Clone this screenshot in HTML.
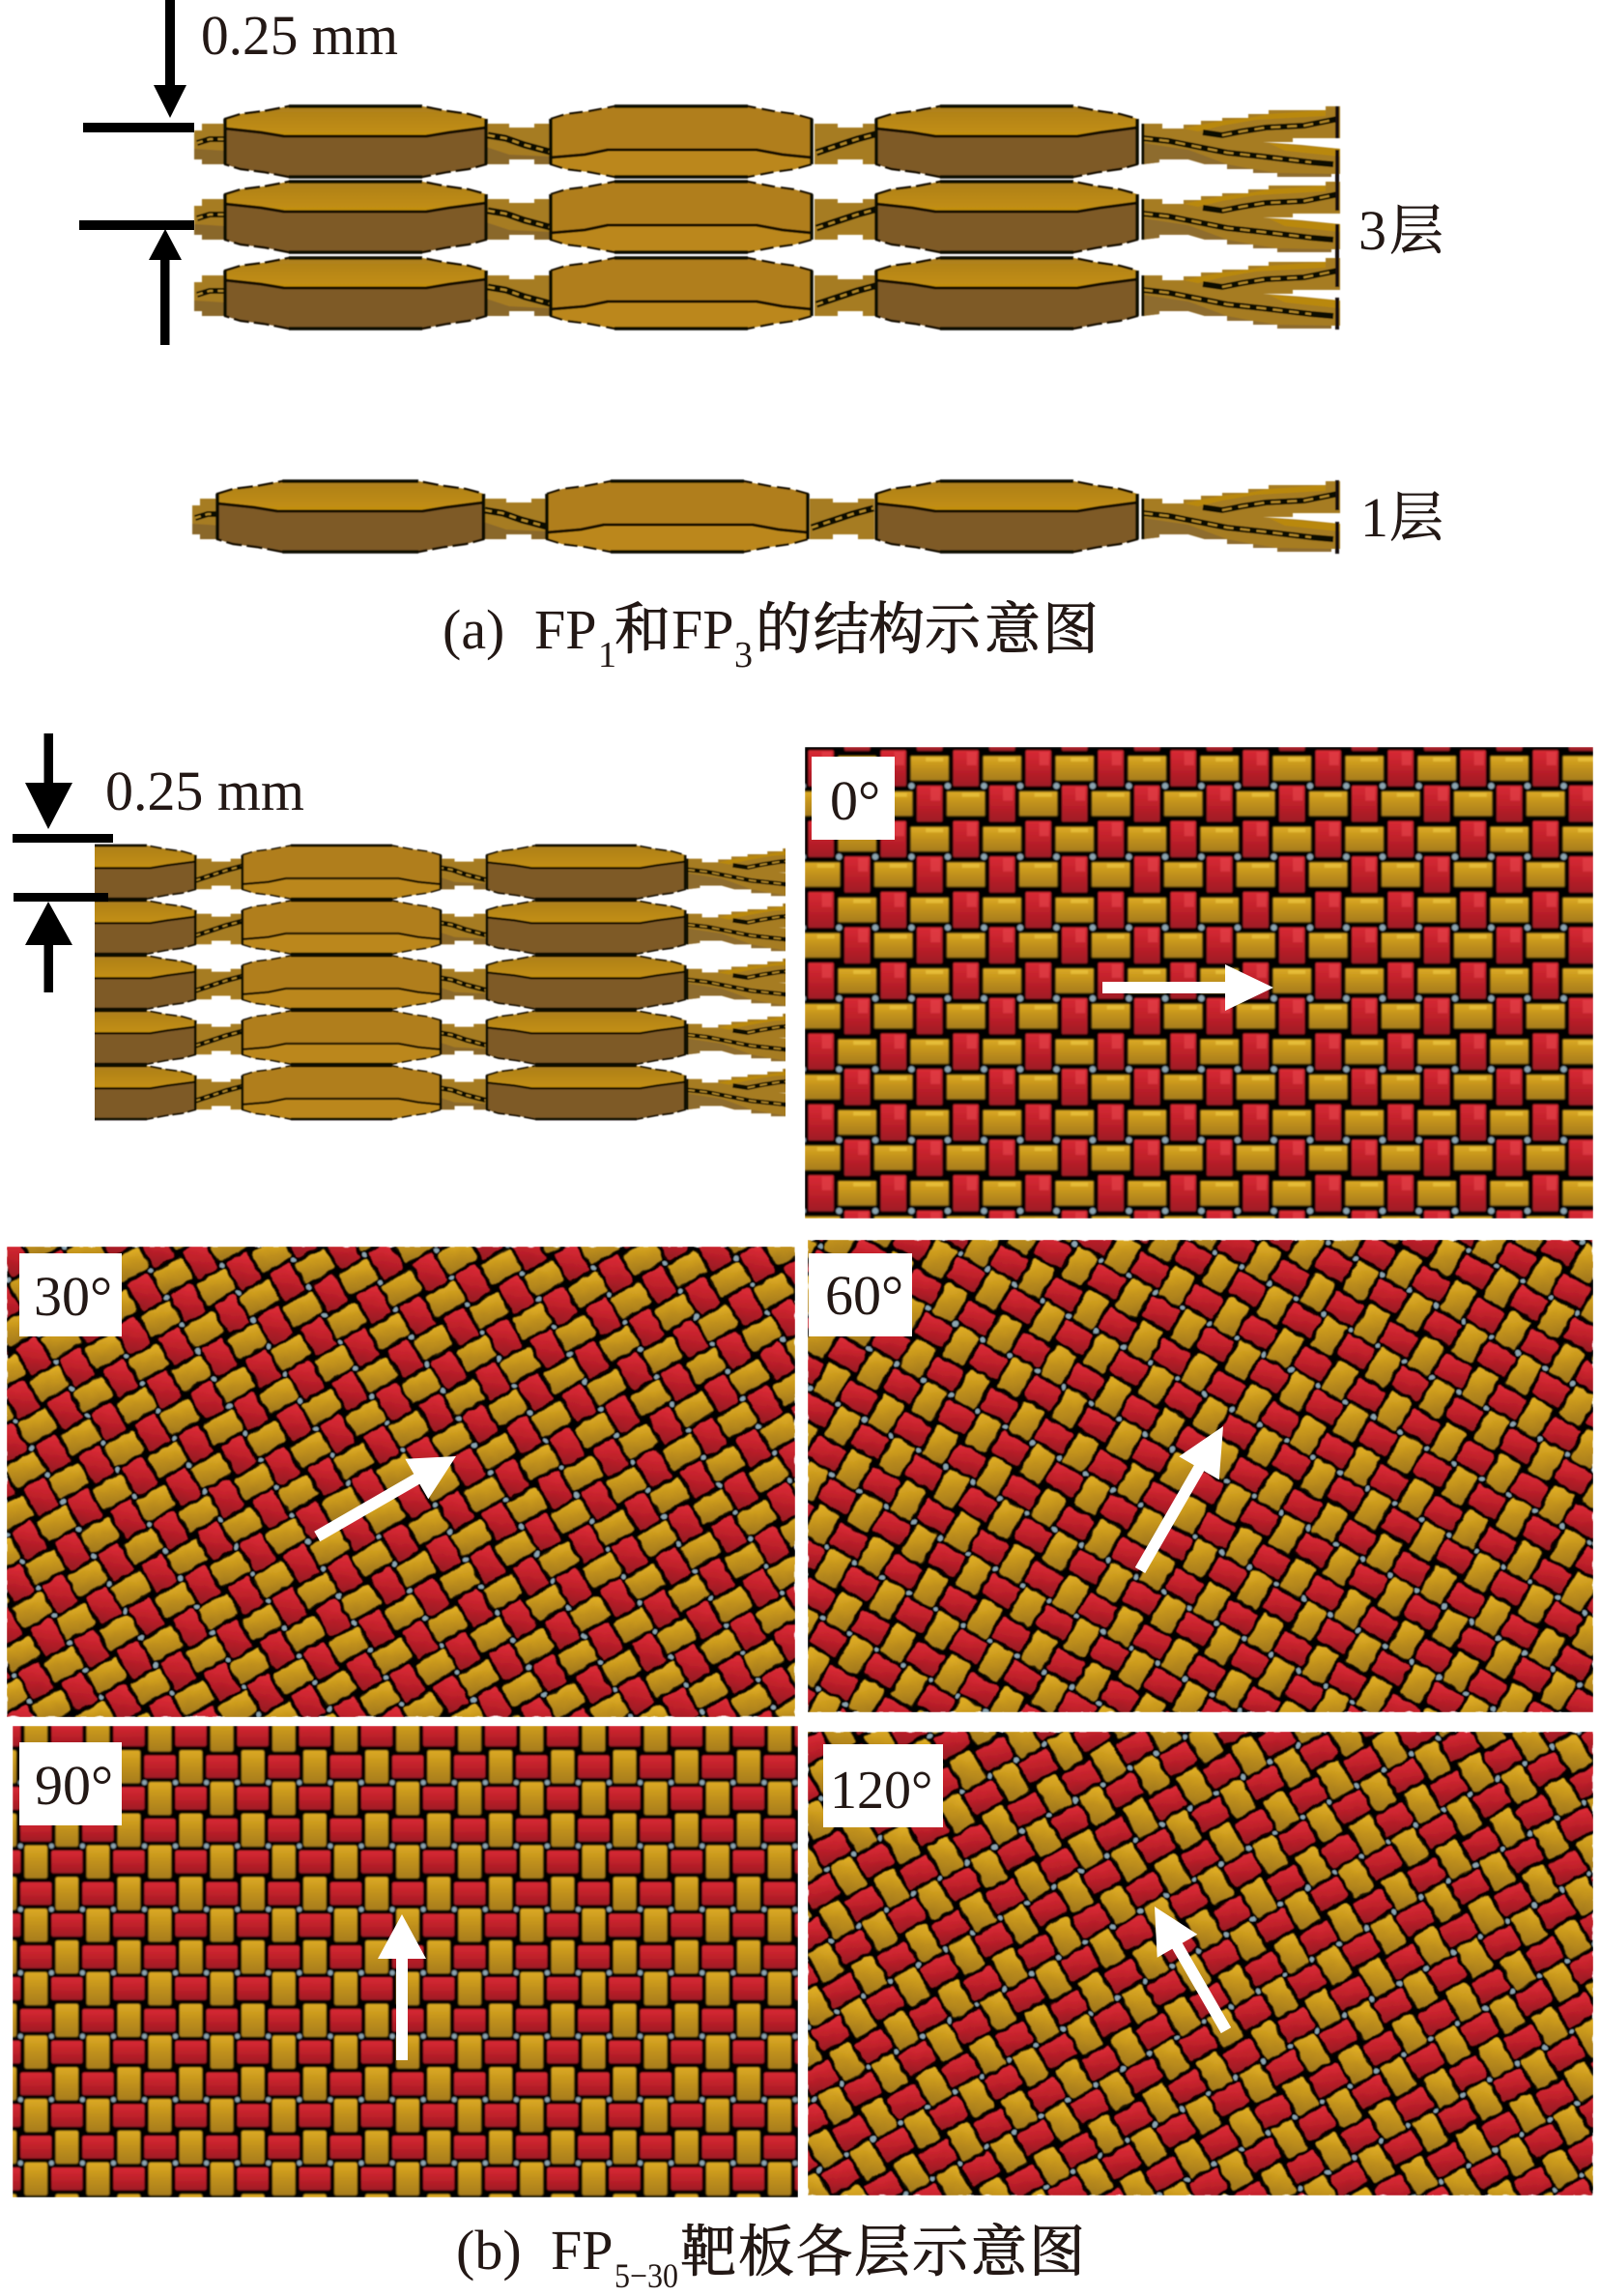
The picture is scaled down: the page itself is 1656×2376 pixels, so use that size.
<!DOCTYPE html>
<html lang="zh">
<head>
<meta charset="utf-8">
<title>FP target structure</title>
<style>
html,body{margin:0;padding:0;background:#fff}
svg{display:block}
.t{font-family:"Liberation Serif","Noto Serif CJK SC",serif;fill:#231815;font-size:58px}
.c{font-family:"Liberation Serif","Noto Serif CJK SC",serif;fill:#231815;font-size:58px;stroke:#231815;stroke-width:.9px}
</style>
</head>
<body>
<svg xmlns="http://www.w3.org/2000/svg" width="1656" height="2376" viewBox="0 0 1656 2376">
<defs>
<filter id="soft" x="0" y="0" width="100%" height="100%"><feGaussianBlur stdDeviation=".8"/></filter>
<filter id="softL" x="-2%" y="-2%" width="104%" height="104%"><feGaussianBlur stdDeviation=".55"/></filter>
<filter id="wavy" x="0" y="0" width="100%" height="100%">
<feTurbulence type="fractalNoise" baseFrequency=".11" numOctaves="1" seed="4" result="n"/>
<feDisplacementMap in="SourceGraphic" in2="n" scale="5" xChannelSelector="R" yChannelSelector="G" result="d"/>
<feGaussianBlur in="d" stdDeviation=".6"/>
</filter>

<linearGradient id="gr" x1="0" y1="0" x2="0" y2="1"><stop offset="0" stop-color="#d82a34"/><stop offset=".5" stop-color="#bf202a"/><stop offset="1" stop-color="#9e1b24"/></linearGradient>
<linearGradient id="gg" x1="0" y1="0" x2="0" y2="1"><stop offset="0" stop-color="#dcaa24"/><stop offset=".5" stop-color="#c0901a"/><stop offset="1" stop-color="#a67c1c"/></linearGradient>
<linearGradient id="ga" x1="0" y1="0" x2="0" y2="1"><stop offset="0" stop-color="#ad7f1c"/><stop offset="1" stop-color="#c49010"/></linearGradient>

<linearGradient id="r30" href="#gr" x1=".75" y1=".067" x2=".25" y2=".933"/>
<linearGradient id="g30" href="#gg" x1=".75" y1=".067" x2=".25" y2=".933"/>
<linearGradient id="r60" href="#gr" x1=".933" y1=".25" x2=".067" y2=".75"/>
<linearGradient id="g60" href="#gg" x1=".933" y1=".25" x2=".067" y2=".75"/>
<linearGradient id="r90" href="#gr" x1="1" y1=".5" x2="0" y2=".5"/>
<linearGradient id="g90" href="#gg" x1="1" y1=".5" x2="0" y2=".5"/>
<linearGradient id="r120" href="#gr" x1=".933" y1=".75" x2=".067" y2=".25"/>
<linearGradient id="g120" href="#gg" x1=".933" y1=".75" x2=".067" y2=".25"/>

<g id="red"><rect x="-13.5" y="-19" width="27" height="38" rx="2" fill="url(#gr)" stroke="#3a0a0a" stroke-width="1"/><rect x="1" y="-17" width="10" height="14" fill="#e8474e" opacity=".55"/></g>
<g id="gold"><rect x="-20" y="-13" width="40" height="26" rx="1.5" fill="url(#gg)" stroke="#3d3008" stroke-width="1.2"/><rect x="-4" y="-11" width="18" height="4" fill="#efc942" opacity=".65"/></g>

<g id="tile">
<rect width="75" height="73.3" fill="#060403"/>
<circle cx="37.5" cy="36.65" r="3.2" fill="#8ca4b0"/>
<circle cx="0" cy="36.65" r="3.2" fill="#8ca4b0"/>
<circle cx="75" cy="36.65" r="3.2" fill="#8ca4b0"/>
<use href="#red" x="18.75" y="18.33"/>
<use href="#red" x="18.75" y="91.63"/>
<use href="#gold" x="56.25" y="18.33"/>
<use href="#gold" x="-18.75" y="18.33"/>
<use href="#gold" x="18.75" y="54.98"/>
<use href="#gold" x="93.75" y="54.98"/>
<use href="#red" x="56.25" y="54.98"/>
<use href="#red" x="56.25" y="-18.32"/>
</g>

<rect id="redR" x="-14" y="-19" width="28" height="38" rx="3" stroke="#1c0505" stroke-width="1.3"/>
<rect id="goldR" x="-20" y="-14" width="40" height="28" rx="3" stroke="#231a06" stroke-width="1.3"/>
<g id="reds"><use href="#redR" x="18.75" y="18.33"/><use href="#redR" x="18.75" y="91.63"/><use href="#redR" x="56.25" y="54.98"/><use href="#redR" x="56.25" y="-18.32"/></g>
<g id="golds"><use href="#goldR" x="56.25" y="18.33"/><use href="#goldR" x="-18.75" y="18.33"/><use href="#goldR" x="18.75" y="54.98"/><use href="#goldR" x="93.75" y="54.98"/></g>
<g id="base"><rect width="75" height="73.3" fill="#060403"/><circle cx="37.5" cy="36.65" r="3" fill="#8ca4b0"/><circle cx="37.5" cy="0" r="3" fill="#8ca4b0"/><circle cx="37.5" cy="73.3" r="3" fill="#8ca4b0"/></g>

<pattern id="p0" patternUnits="userSpaceOnUse" width="75" height="73.3" patternTransform="translate(999.7 795) translate(-18.75 -18.33)"><use href="#tile"/></pattern>
<pattern id="p30" patternUnits="userSpaceOnUse" width="75" height="73.3" patternTransform="translate(35 1403.3) rotate(-30) scale(.885) translate(-18.75 -18.33)"><use href="#base"/><use href="#reds" fill="url(#r30)"/><use href="#golds" fill="url(#g30)"/></pattern>
<pattern id="p60" patternUnits="userSpaceOnUse" width="75" height="73.3" patternTransform="translate(966.7 1376.7) rotate(-60) scale(.885) translate(-18.75 -18.33)"><use href="#base"/><use href="#reds" fill="url(#r60)"/><use href="#golds" fill="url(#g60)"/></pattern>
<pattern id="p90" patternUnits="userSpaceOnUse" width="75" height="73.3" patternTransform="translate(69.3 1926.7) rotate(-90) scale(.875) translate(-18.75 -18.33)"><use href="#base"/><use href="#reds" fill="url(#r90)"/><use href="#golds" fill="url(#g90)"/></pattern>
<pattern id="p120" patternUnits="userSpaceOnUse" width="75" height="73.3" patternTransform="translate(1018.3 1860) rotate(-120) scale(.885) translate(-18.75 -18.33)"><use href="#base"/><use href="#reds" fill="url(#r120)"/><use href="#golds" fill="url(#g120)"/></pattern>

<polygon id="outer" points="0,13 16,8 40,5 66,0 204,0 230,5 252,8 270,13 270,60 252,65 230,68 204,73 66,73 40,68 16,65 0,60"/>

<g id="lensA">
<use href="#outer" fill="#7e5a28"/>
<polygon points="0,13 16,8 40,5 66,0 204,0 230,5 252,8 270,13 270,22 232,27 208,31 61,31 37,27 0,23" fill="url(#ga)"/>
<polyline points="0,23 37,27 61,31 208,31 232,27 270,22" fill="none" stroke="#120c04" stroke-width="3"/>
<use href="#outer" fill="none" stroke="#120c04" stroke-width="2.4" stroke-dasharray="16 5"/>
<path d="M66 0H204M66 73H204" stroke="#0a0703" stroke-width="3.5"/>
<path d="M0 13V60M270 13V60" stroke="#0a0703" stroke-width="3.5"/>
</g>

<g id="lensB">
<use href="#outer" fill="#b07e1f"/>
<polygon points="0,53 35,50 59,45 213,45 240,50 270,53 270,60 252,65 230,68 204,73 66,73 40,68 16,65 0,60" fill="#bb871a"/>
<polyline points="0,53 35,50 59,45 213,45 240,50 270,53" fill="none" stroke="#120c04" stroke-width="3"/>
<use href="#outer" fill="none" stroke="#120c04" stroke-width="2.2" stroke-dasharray="14 6"/>
<path d="M66 0H204M66 73H204" stroke="#0a0703" stroke-width="3.5"/>
<path d="M0 13V60M270 13V60" stroke="#0a0703" stroke-width="3.5"/>
</g>

<g id="linkD">
<polygon points="0,18 24,18 24,22 50,22 50,18 67,18 67,60 50,60 50,55 24,55 24,60 0,60" fill="#a67c22"/>
<polygon points="0,42 24,50 67,52 67,60 50,60 50,55 24,55 24,60 0,60" fill="#8a672c"/>
<polyline points="2,30 20,33 40,40 66,47" fill="none" stroke="#0e0a04" stroke-width="7"/>
<polyline points="2,30 20,33 40,40 66,47" fill="none" stroke="#b58a2a" stroke-width="2.4" stroke-dasharray="7 6"/>
</g>
<g id="linkU">
<polygon points="0,18 24,18 24,22 50,22 50,18 67,18 67,60 50,60 50,55 24,55 24,60 0,60" fill="#a67c22"/>
<polyline points="2,48 26,40 44,34 66,28" fill="none" stroke="#0e0a04" stroke-width="7"/>
<polyline points="2,48 26,40 44,34 66,28" fill="none" stroke="#b58a2a" stroke-width="2.4" stroke-dasharray="7 6"/>
</g>
<g id="stub">
<polygon points="0,25 8,25 8,18 32,18 32,60 8,60 8,55 0,55" fill="#a67c22"/>
<polygon points="0,44 32,46 32,60 8,60 8,55 0,55" fill="#8a672c"/>
<polyline points="3,38 16,34 31,34" fill="none" stroke="#0e0a04" stroke-width="6"/>
<polyline points="3,38 16,34 31,34" fill="none" stroke="#b58a2a" stroke-width="2.2" stroke-dasharray="6 5"/>
</g>

<g id="tail">
<polygon points="3,18 23,18 23,23 45,23 45,19 63,19 63,15 85,15 85,12 112,12 112,8 133,8 133,4 192,4 192,0 207,0 207,33 158,33 158,37 127,37 167,40 207,44 207,70 198,70 198,73 142,73 142,69 117,69 117,65 90,65 90,60 67,60 50,55 20,55 20,58 3,60" fill="#a67c22"/>
<polygon points="3,38 50,45 90,60 117,65 142,69 198,70 198,73 142,73 142,69 117,69 117,65 90,65 90,60 67,60 50,55 20,55 20,58 3,60" fill="#8e6c2e"/>
<polygon points="45,23 63,19 85,15 112,12 133,8 192,4 192,10 120,14 85,20 60,26" fill="#b9880f"/>
<polygon points="133,38 167,41 207,44 207,52 150,46" fill="#b9880f"/>
<polyline points="3,33 30,36 60,42 90,48 127,52 177,58 200,60" fill="none" stroke="#0e0a04" stroke-width="6"/>
<polyline points="3,33 30,36 60,42 90,48 127,52 177,58" fill="none" stroke="#b58a2a" stroke-width="2.2" stroke-dasharray="10 7"/>
<polyline points="65,27 85,30 105,26 130,22 170,20 205,13" fill="none" stroke="#0e0a04" stroke-width="6"/>
<polyline points="85,30 105,26 130,22 170,20 200,14" fill="none" stroke="#b58a2a" stroke-width="2.2" stroke-dasharray="10 7"/>
<path d="M3 18V60" stroke="#0a0703" stroke-width="3"/>
</g>

<g id="rowA">
<use href="#stub" x="201"/>
<use href="#linkD" x="503"/>
<use href="#linkU" x="843"/>
<use href="#tail" x="1180"/>
<use href="#lensA" x="233"/>
<use href="#lensB" x="570"/>
<use href="#lensA" x="907"/>
</g>

<g id="rowS">
<g transform="scale(.76 .755)">
<use href="#linkU" x="268"/>
<use href="#linkD" x="599"/>
<use href="#tail" x="937"/>
<use href="#lensA" x="0"/>
<use href="#lensB" x="334"/>
<use href="#lensA" x="667"/>
</g>
</g>

<clipPath id="cb"><rect x="98" y="860" width="715" height="340"/></clipPath>
</defs>

<rect width="1656" height="2376" fill="#fff"/>

<!-- (a) -->
<g filter="url(#softL)">
<use href="#rowA" y="110"/>
<use href="#rowA" y="188"/>
<use href="#rowA" y="267"/>
<rect x="1382" y="110" width="4" height="33" fill="#14100a"/>
<rect x="1382" y="155" width="4" height="63" fill="#14100a"/>
<rect x="1382" y="232" width="4" height="65" fill="#14100a"/>
<rect x="1382" y="308" width="4" height="33" fill="#14100a"/>
</g>
<g filter="url(#softL)">
<use href="#stub" x="199" y="498"/>
<use href="#linkD" x="500" y="498"/>
<use href="#linkU" x="838" y="498"/>
<use href="#tail" x="1180" y="498"/>
<use href="#lensA" transform="translate(225 498) scale(1.02 1)"/>
<use href="#lensB" transform="translate(566 498) scale(1)"/>
<use href="#lensA" x="907" y="498"/>
<rect x="1382" y="497" width="4" height="31" fill="#14100a"/>
<rect x="1382" y="540" width="4" height="33" fill="#14100a"/>
</g>

<rect x="171" y="0" width="10" height="90"/>
<polygon points="159,88 193,88 176,122"/>
<rect x="86" y="127" width="115" height="10"/>
<rect x="82" y="228" width="119" height="10"/>
<polygon points="154,269 188,269 171,237"/>
<rect x="166" y="267" width="9.5" height="90"/>

<text class="t" x="208" y="56" textLength="204" lengthAdjust="spacingAndGlyphs">0.25 mm</text>
<text class="t" x="1406" y="258">3</text>
<text class="c" x="1438" y="258" style="font-size:56px;stroke-width:.6px">层</text>
<text class="t" x="1408" y="555">1</text>
<text class="c" x="1438" y="555" style="font-size:56px;stroke-width:.6px">层</text>

<text class="t" x="458" y="671">(a)</text>
<text class="t" x="553" y="671">FP</text>
<text class="t" x="619" y="690" style="font-size:38px">1</text>
<text class="c" x="636" y="671">和</text>
<text class="t" x="695" y="671">FP</text>
<text class="t" x="760" y="690" style="font-size:38px">3</text>
<text class="c" x="782 842 899 957 1019 1079" y="671">的结构示意图</text>

<!-- (b) cross-section -->
<g clip-path="url(#cb)"><g filter="url(#softL)">
<use href="#rowS" transform="translate(-3 875)"/>
<use href="#rowS" transform="translate(-3 932)"/>
<use href="#rowS" transform="translate(-3 989)"/>
<use href="#rowS" transform="translate(-3 1046)"/>
<use href="#rowS" transform="translate(-3 1103)"/>
</g></g>

<rect x="45.5" y="759" width="9.5" height="52"/>
<polygon points="26,810 75,810 50,858"/>
<rect x="13" y="863" width="104" height="9"/>
<rect x="14" y="924" width="98" height="9"/>
<polygon points="26,978 75,978 50,933"/>
<rect x="45.5" y="976" width="9.5" height="51"/>
<text class="t" x="109" y="838" textLength="206" lengthAdjust="spacingAndGlyphs">0.25 mm</text>

<!-- weave panels -->
<rect x="833" y="773" width="816" height="488" fill="url(#p0)" filter="url(#soft)"/>
<rect x="7" y="1290" width="816" height="487" fill="url(#p30)" filter="url(#wavy)"/>
<rect x="836" y="1283" width="813" height="489" fill="url(#p60)" filter="url(#wavy)"/>
<rect x="13" y="1786" width="813" height="488" fill="url(#p90)" filter="url(#soft)"/>
<rect x="836" y="1792" width="813" height="480" fill="url(#p120)" filter="url(#wavy)"/>

<!-- label boxes -->
<rect x="840" y="783" width="86" height="86" fill="#fff"/>
<rect x="20" y="1297" width="106" height="86" fill="#fff"/>
<rect x="837" y="1297" width="107" height="86" fill="#fff"/>
<rect x="20" y="1803" width="106" height="86" fill="#fff"/>
<rect x="852" y="1805" width="124" height="86" fill="#fff"/>
<text class="t" x="859" y="848">0°</text>
<text class="t" x="35" y="1361">30°</text>
<text class="t" x="854" y="1360">60°</text>
<text class="t" x="36" y="1867">90°</text>
<text class="t" x="859" y="1871" style="font-size:56px">120°</text>

<!-- white arrows -->
<g fill="#fff">
<polygon transform="translate(1318 1022) rotate(0)" points="0,0 -50,-24 -50,-6 -177,-6 -177,6 -50,6 -50,24"/>
<polygon transform="translate(472 1507) rotate(-30)" points="0,0 -47,-24 -47,-6 -166,-6 -166,6 -47,6 -47,24"/>
<polygon transform="translate(1266 1476) rotate(-60)" points="0,0 -50,-24 -50,-6 -172,-6 -172,6 -50,6 -50,24"/>
<polygon transform="translate(416 1981) rotate(-90)" points="0,0 -46,-25 -46,-6 -151,-6 -151,6 -46,6 -46,25"/>
<polygon transform="translate(1195 1973) rotate(-120)" points="0,0 -47,-24 -47,-6 -148,-6 -148,6 -47,6 -47,24"/>
</g>

<!-- caption b -->
<text class="t" x="472" y="2348">(b)</text>
<text class="t" x="570" y="2348">FP</text>
<text class="t" x="636" y="2367" style="font-size:36px" textLength="66" lengthAdjust="spacingAndGlyphs">5−30</text>
<text class="c" x="704 764 824 884 944 1005 1065" y="2350">靶板各层示意图</text>
</svg>
</body>
</html>
